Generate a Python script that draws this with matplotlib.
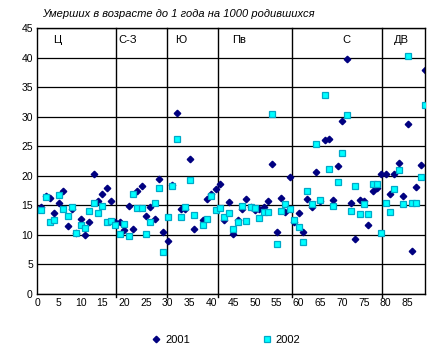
import matplotlib
matplotlib.use("Agg")
import matplotlib.pyplot as plt
import numpy as np

plt.rcParams['font.family'] = ['Liberation Sans', 'DejaVu Sans']

# region index (x)
x_2001 = [1, 2, 3, 4, 5, 6, 7, 8, 9, 10, 11, 12, 13, 14, 15, 16, 17, 18,
          19, 20, 21, 22, 23, 24, 25, 26, 27, 28, 29, 30,
          31, 32, 33, 34, 35, 36, 38, 39, 40, 41, 42,
          43, 44, 45, 46, 47, 48, 49, 50, 51, 52, 53, 54, 55, 56, 57, 58,
          59, 60, 61, 62, 63, 64, 65, 66, 67, 68, 69, 70, 71, 72, 73, 74,
          75, 76, 77, 78, 79, 80, 81, 82, 83, 84, 85, 86, 87, 88, 89]
y_2001 = [14.8, 16.6, 16.3, 13.75, 15.4, 17.5, 11.5, 14.3, 10.4, 12.7, 10.0, 12.2, 20.3, 15.8, 16.97, 18.0, 15.8, 12.2,
          12.1, 10.8, 14.9, 11.05, 17.5, 18.3, 13.25, 14.8, 12.7, 19.5, 10.5, 9.0,
          18.5, 30.7, 14.3, 14.3, 22.8, 11.05, 12.5, 16.0, 16.9, 17.8, 18.6,
          12.6, 15.6, 10.15, 12.6, 14.3, 16.1, 14.7, 14.2, 14.4, 14.8, 15.7, 22.0, 10.5, 16.2, 13.9, 19.85,
          12.2, 13.75, 10.5, 16.1, 14.8, 20.7, 15.8, 26.1, 26.3, 15.9, 21.7, 29.3, 39.8, 15.45, 9.3, 15.9,
          15.8, 11.7, 17.5, 17.9, 20.35, 20.35, 17.0, 20.35, 22.2, 16.6, 28.8, 7.3, 18.15, 21.8, 37.9]

x_2002 = list(x_2001)
y_2002 = [14.2, 16.4, 12.1, 12.5, 16.8, 14.4, 13.25, 14.8, 10.4, 11.7, 11.2, 14.1, 15.4, 13.7, 14.9, 12.1, 12.4, 11.6,
          10.2, 11.85, 9.85, 17.0, 14.6, 14.6, 10.2, 12.1, 15.45, 18.0, 7.1, 13.1,
          18.3, 26.3, 13.1, 14.8, 19.3, 13.4, 11.7, 12.7, 16.5, 14.2, 14.6,
          13.1, 13.75, 11.05, 12.2, 14.9, 12.4, 14.8, 14.6, 12.9, 13.9, 13.9, 30.45, 8.5, 14.1, 15.2, 14.4,
          12.5, 11.4, 8.85, 17.5, 15.3, 25.4, 15.9, 33.7, 21.2, 14.9, 19.0, 23.9, 30.3, 14.1, 18.3, 13.6,
          15.3, 13.6, 18.6, 18.6, 10.4, 15.45, 13.9, 17.8, 21.0, 15.3, 40.3, 15.45, 15.45, 19.85, 32.0]

region_labels = ['Ц', 'С-З', 'Ю', 'Пв', 'С', 'ДВ']
region_label_x = [4.6, 20.8, 33.0, 46.4, 71.0, 83.6]
region_bounds = [18.2, 29.9, 41.5, 58.6, 79.2]

series_names = ['2001', '2002']
title = 'Умерших в возрасте до 1 года на 1000 родившихся'

fig = plt.figure(figsize=(4.48, 3.58), dpi=100)
ax = fig.add_axes([37/448, 1-294/358, (425-37)/448, (294-28)/358])

ax.set_xlim(0, 89)
ax.set_ylim(0, 45)
ax.set_xticks(np.arange(0, 90, 5))
ax.set_yticks(np.arange(0, 46, 5))
ax.tick_params(length=0, labelsize=7.5, pad=3)
ax.yaxis.grid(True, color='black', linewidth=0.9)
ax.set_axisbelow(True)
for s in ax.spines.values():
    s.set_linewidth(1.0)
    s.set_color('black')

for b in region_bounds:
    ax.plot([b, b], [-0.45, 45], color='black', linewidth=1.0, clip_on=False, zorder=1)

for lab, lx in zip(region_labels, region_label_x):
    ax.text(lx, 43.0, lab, ha='center', va='center', fontsize=8)

h1, = ax.plot(x_2001, y_2001, linestyle='none', marker='D', markersize=3.3,
              color='#000080', markeredgecolor='#000080', label=series_names[0], zorder=2)
h2, = ax.plot(x_2002, y_2002, linestyle='none', marker='s', markersize=4.4,
              markerfacecolor='#00FFFF', markeredgecolor='#00A8C8', markeredgewidth=0.9,
              label=series_names[1], zorder=3)

fig.text(42/448, 1-14/358, title, fontsize=8, style='italic', ha='left', va='center')

fig.legend(handles=[h1, h2], loc='center', bbox_to_anchor=(0.505, 1-340/358), ncol=2,
           frameon=False, fontsize=8, handlelength=0.8, handletextpad=0.4,
           columnspacing=6.5)

fig.savefig('out.png', dpi=100)
